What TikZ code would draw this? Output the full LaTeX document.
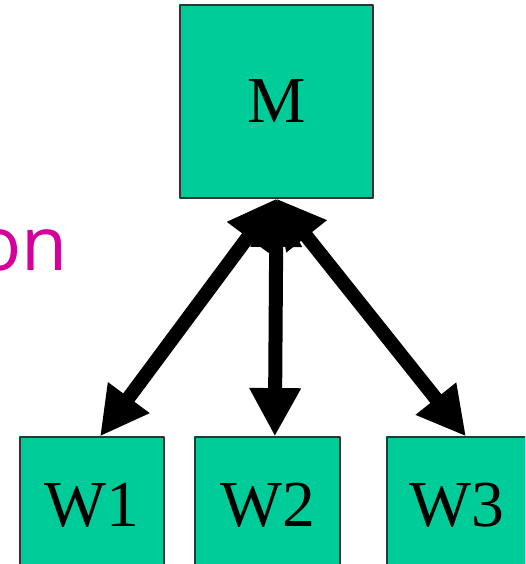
\documentclass[tikz,border=0pt]{standalone}
\usepackage{fontspec}
\setmainfont{Liberation Serif}
\newfontfamily\handfont{Open Sans}
\usetikzlibrary{arrows.meta}
\definecolor{boxteal}{RGB}{0,204,153}
\definecolor{notemag}{RGB}{212,0,154}

\begin{document}
\begin{tikzpicture}[x=0.03cm,y=-0.03cm,line cap=round,line join=round,
    >={Triangle[length=1.45cm,width=1.45cm]},
    proc/.style={draw=black!80,line width=1pt,fill=boxteal,inner sep=0pt,
        font=\fontsize{56}{60}\selectfont},
    link/.style={<->,line width=0.42cm,black}]
        \useasboundingbox (0,0) rectangle (525,564);
        \clip (0,0) rectangle (525,564);

        \node[proc,minimum width=5.79cm,minimum height=5.79cm] (M) at (276.5,101.5) {M};
        \node[proc,minimum width=4.32cm,minimum height=4.08cm] (W1) at (92,505) {W1};
        \node[proc,minimum width=4.35cm,minimum height=4.08cm] (W2) at (267.5,505) {W2};
        \node[proc,minimum width=4.2cm,minimum height=4.08cm] (W3) at (457,505) {W3};

        \node[notemag,anchor=east,font=\handfont\fontsize{64}{70}\selectfont] (note) at (72,250) {on};

        \draw[link] (M.south) -- ([xshift=0.24cm]W1.north);
        \draw[link] (M.south) -- ([xshift=0.22cm]W2.north);
        \draw[link] (M.south) -- ([xshift=0.27cm]W3.north);
        
        \end{tikzpicture}
\end{document}
